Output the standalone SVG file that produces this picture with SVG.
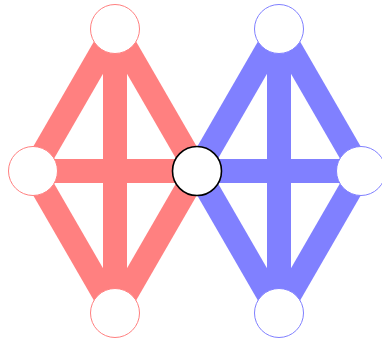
<svg xmlns="http://www.w3.org/2000/svg" width="382" height="344" viewBox="0 0 382 344">
<style>
.er{stroke:#ff8080;stroke-width:24;fill:none}
.eb{stroke:#8080ff;stroke-width:24;fill:none}
.n{fill:#ffffff;stroke-width:1}
.nr{stroke:#ff8080}
.nb{stroke:#8080ff}
.nk{stroke:#000000;stroke-width:1.6}
</style>
<rect width="382" height="344" fill="#ffffff"/>
<g id="connectors">
<line class="er" x1="115" y1="29" x2="33" y2="171"/>
<line class="er" x1="115" y1="29" x2="197" y2="171"/>
<line class="er" x1="115" y1="29" x2="115" y2="313"/>
<line class="er" x1="33" y1="171" x2="197" y2="171"/>
<line class="er" x1="33" y1="171" x2="115" y2="313"/>
<line class="er" x1="197" y1="171" x2="115" y2="313"/>
<line class="eb" x1="279" y1="29" x2="197" y2="171"/>
<line class="eb" x1="279" y1="29" x2="361" y2="171"/>
<line class="eb" x1="279" y1="29" x2="279" y2="313"/>
<line class="eb" x1="197" y1="171" x2="361" y2="171"/>
<line class="eb" x1="197" y1="171" x2="279" y2="313"/>
<line class="eb" x1="361" y1="171" x2="279" y2="313"/>
</g>
<g id="n1"><circle class="n nr" cx="115" cy="29" r="24.5"/></g>
<g id="n2"><circle class="n nr" cx="33" cy="171" r="24.5"/></g>
<g id="n3"><circle class="n nr" cx="115" cy="313" r="24.5"/></g>
<g id="n4"><circle class="n nb" cx="279" cy="29" r="24.5"/></g>
<g id="n5"><circle class="n nb" cx="361" cy="171" r="24.5"/></g>
<g id="n6"><circle class="n nb" cx="279" cy="313" r="24.5"/></g>
<g id="n0"><circle class="n nk" cx="197" cy="171" r="24.5"/></g>
</svg>
